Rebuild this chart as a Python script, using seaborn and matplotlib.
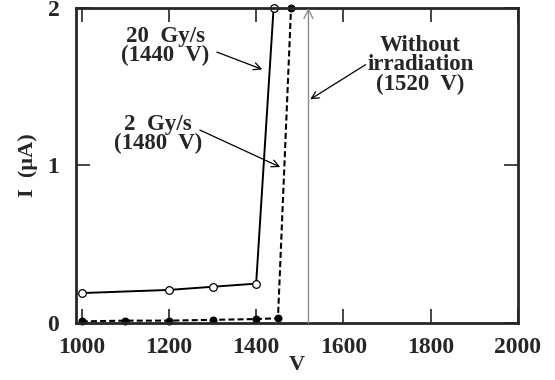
import pandas as pd
import matplotlib
matplotlib.use("Agg")
import matplotlib.pyplot as plt
import seaborn as sns

# 20 Gy/s (open circles, solid)
v_20 = [1000, 1200, 1300, 1400, 1440]
i_20 = [0.19, 0.21, 0.23, 0.25, 2.0]
# 2 Gy/s (filled circles, dashed)
v_2 = [1000, 1100, 1200, 1300, 1400, 1450, 1480]
i_2 = [0.01, 0.015, 0.015, 0.02, 0.025, 0.03, 2.0]
# without irradiation
v_none = 1520

x_ticks = [1000, 1200, 1400, 1600, 1800, 2000]
y_ticks = [0, 1, 2]

df20 = pd.DataFrame({"V": v_20, "I": i_20})
df2 = pd.DataFrame({"V": v_2, "I": i_2})

sns.set_style("ticks")
plt.rcParams["font.family"] = ["Liberation Serif", "DejaVu Serif"]
plt.rcParams["font.weight"] = "bold"

fig, ax = plt.subplots(figsize=(5.55, 3.8), dpi=100)
fig.subplots_adjust(left=0.137, right=0.933, top=0.979, bottom=0.15)

sns.lineplot(data=df20, x="V", y="I", ax=ax, color="black", linewidth=1.4,
             marker="o", markersize=5.5, markerfacecolor="white",
             markeredgecolor="black", markeredgewidth=0.9, clip_on=False)
sns.lineplot(data=df2, x="V", y="I", ax=ax, color="black", linewidth=1.5,
             linestyle=(0, (2.9, 1.5)), marker="o", markersize=5,
             markerfacecolor="black", markeredgecolor="black", clip_on=False)

ax.annotate("", xy=(v_none, 2.0), xytext=(v_none, 0.0),
            arrowprops=dict(arrowstyle="->", color="#8c8c8c", lw=1.0,
                            shrinkA=0, shrinkB=0, mutation_scale=16))

txt = dict(ha="center", va="center", fontsize=16.5, fontweight="bold",
           linespacing=0.9)
arr = dict(arrowstyle="->", color="black", lw=0.9, mutation_scale=13,
           shrinkA=0, shrinkB=0)
ax.text(1191, 1.76, "20  Gy/s\n(1440  V)", **txt)
ax.annotate("", xy=(1414, 1.61), xytext=(1310, 1.72), arrowprops=arr)
ax.text(1175, 1.2, "2  Gy/s\n(1480  V)", **txt)
ax.annotate("", xy=(1455, 0.99), xytext=(1271, 1.225), arrowprops=arr)
ax.text(1777, 1.64, "Without\nirradiation\n(1520  V)", **txt)
ax.annotate("", xy=(1524, 1.42), xytext=(1651, 1.64), arrowprops=arr)

ax.set_xlim(987, 2000)
ax.set_ylim(0, 2)
ax.set_xticks(x_ticks)
ax.set_yticks(y_ticks)
ax.set_xlabel("V", fontsize=16, fontweight="bold", labelpad=-2)
ax.set_ylabel("I  (\u00b5A)", fontsize=16, fontweight="bold", labelpad=7)
ax.tick_params(direction="in", length=10, width=1.2, top=True, right=True,
               labelsize=17)
ax.tick_params(axis="x", pad=10)
ax.tick_params(axis="y", pad=12)
for lab in ax.get_xticklabels() + ax.get_yticklabels():
    lab.set_fontweight("bold")
for s in ax.spines.values():
    s.set_linewidth(2.0)
    s.set_visible(True)

fig.savefig("out.png", dpi=100)
